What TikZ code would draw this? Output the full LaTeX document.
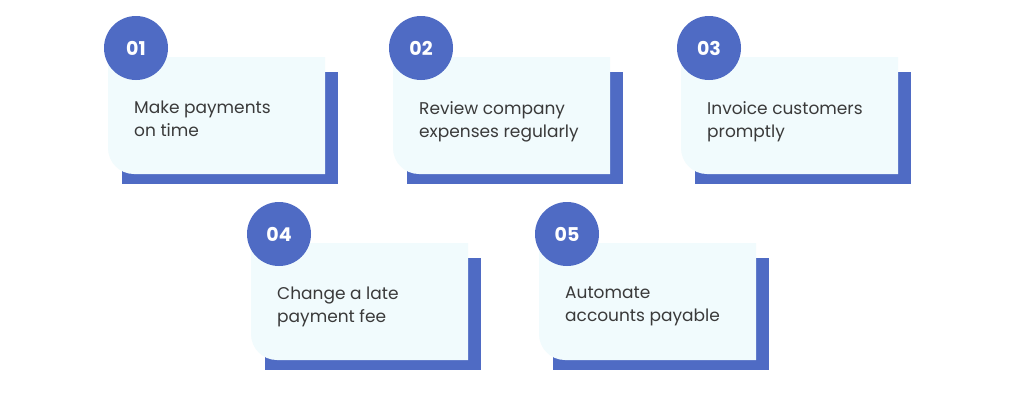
\documentclass[tikz,border=0pt]{standalone}
\usepackage{fontspec}
\setmainfont{Poppins}
\usetikzlibrary{positioning, calc}
\definecolor{tipblue}{HTML}{4F6BC4}
\definecolor{tipfill}{HTML}{F1FBFD}
\definecolor{tiptext}{HTML}{3A3A3A}
\tikzset{
  shadowbox/.style={fill=tipblue, draw=none},
  cardbox/.style={fill=tipfill, draw=none},
  numdot/.style={circle, fill=tipblue, minimum size=64pt, inner sep=0pt,
    text=white, font=\fontsize{19}{19}\selectfont\bfseries},
  tiplabel/.style={anchor=north west, align=left, text=tiptext,
    font=\fontsize{17}{23}\selectfont, inner sep=0pt}
}
% one card: #1 name, (#2,#3) top left of the light box, #4 number, #5 text
\newcommand{\tipcard}[5]{
  \fill[shadowbox] (#2+14,#3+15) rectangle (#2+230,#3+127);
  \fill[cardbox] (#2,#3) -- (#2+217,#3) -- (#2+217,#3+117)
    [rounded corners=26pt] -- (#2,#3+117) [sharp corners] -- cycle;
  \node[numdot] (#1dot) at (#2+28,#3-9) {#4};
  \node[tiplabel] (#1text) at (#2+26,#3+44) {#5};
}
\begin{document}
\begin{tikzpicture}[x=1pt, y=-1pt]
  \useasboundingbox (0,0) rectangle (1024,400);
  \fill[white] (0,0) rectangle (1024,400);
  \tipcard{pay}{108}{57}{01}{Make payments\\on time}
  \tipcard{review}{393}{57}{02}{Review company\\expenses regularly}
  \tipcard{invoice}{681}{57}{03}{Invoice customers\\promptly}
  \tipcard{fee}{251}{243}{04}{Change a late\\payment fee}
  \tipcard{auto}{539}{243}{05}{Automate\\accounts payable}
\end{tikzpicture}
\end{document}
